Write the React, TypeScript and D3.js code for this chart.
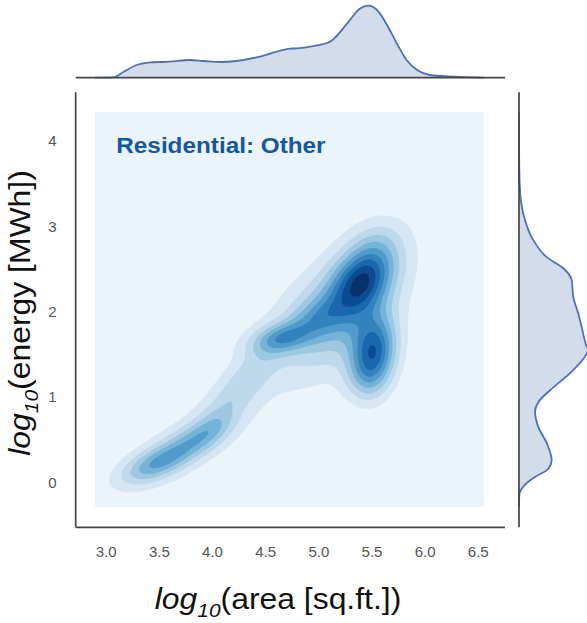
import React, { useEffect, useRef } from "react";
import * as d3 from "d3";

const size = { width: 587, height: 623 };

// main axes frame (data units)
const xDomain = [2.718, 6.756];
const yDomain = [-0.527, 4.573];
const xTicks = [3.0, 3.5, 4.0, 4.5, 5.0, 5.5, 6.0, 6.5];
const yTicks = [0, 1, 2, 3, 4];

// extent of the kde grid (shaded lowest level)
const gridX = [2.9, 6.56];
const gridY = [-0.29, 4.34];

// gaussian bumps
const bumpX = [5.42, 5.52, 5.2, 4.65, 5.0, 5.55, 5.05, 4.1, 4.35, 5.45, 3.45, 3.78, 4.0, 3.7];
const bumpY = [2.38, 1.52, 2.0, 1.69, 1.95, 2.82, 1.9, 0.85, 1.25, 1.2, 0.2, 0.45, 0.62, 0.4];
const bumpSX = [0.2, 0.15, 0.33, 0.2, 0.18, 0.2, 0.6, 0.2, 0.2, 0.15, 0.22, 0.22, 0.15, 0.45];
const bumpSY = [0.27, 0.3, 0.42, 0.13, 0.15, 0.22, 0.7, 0.25, 0.25, 0.2, 0.16, 0.18, 0.15, 0.38];
const bumpRho = [0.35, 0.15, 0.45, 0.35, 0.3, 0.2, 0.6, 0.6, 0.6, 0.0, 0.55, 0.6, 0.5, 0.7];
const bumpAmp = [0.6, 0.68, 0.31, 0.4, 0.17, 0.13, 0.13, 0.13, 0.16, 0.12, 0.34, 0.25, 0.12, 0.12];

// marginal of area (top)
const areaX = [2.9, 3.07, 3.17, 3.29, 3.42, 3.6, 3.79, 3.92, 4.08, 4.23, 4.42, 4.61, 4.73, 4.8, 4.95, 5.11, 5.27, 5.39, 5.47, 5.55, 5.64, 5.74, 5.83, 5.93, 6.05, 6.27, 6.56];
const areaD = [0, 0.004, 0.083, 0.176, 0.213, 0.222, 0.246, 0.232, 0.218, 0.232, 0.282, 0.361, 0.403, 0.408, 0.44, 0.5, 0.75, 0.958, 1.0, 0.944, 0.75, 0.472, 0.246, 0.107, 0.0375, 0.014, 0];

// marginal of energy (right)
const energyY = [-0.29, -0.15, -0.05, 0.05, 0.16, 0.26, 0.46, 0.65, 0.83, 0.94, 1.08, 1.28, 1.51, 1.55, 1.59, 1.82, 1.98, 2.17, 2.37, 2.51, 2.64, 2.84, 3.15, 3.43, 3.8, 4.34];
const energyD = [0, 0.004, 0.061, 0.204, 0.419, 0.467, 0.396, 0.276, 0.229, 0.276, 0.443, 0.729, 0.967, 0.986, 0.967, 0.896, 0.847, 0.776, 0.753, 0.633, 0.396, 0.204, 0.061, 0.014, 0.002, 0];

const nLevels = 10;
const fontFamily = "'Liberation Sans', Arial, sans-serif";

function density(x: number, y: number) {
  var v = 0;
  for (var i = 0; i < bumpX.length; i++) {
    const dx = (x - bumpX[i]) / bumpSX[i];
    const dy = (y - bumpY[i]) / bumpSY[i];
    const r = bumpRho[i];
    const q = (dx * dx - 2 * r * dx * dy + dy * dy) / (1 - r * r);
    v += bumpAmp[i] * Math.exp(-0.5 * q);
  }
  return v;
}

function JointPlot() {
  const ref = useRef<SVGSVGElement>(null);

  useEffect(() => {
    const svg = d3.select(ref.current);
    svg.selectAll("*").remove();

    const x = d3.scaleLinear().domain(xDomain).range([75.7, 505]);
    const y = d3.scaleLinear().domain(yDomain).range([527.3, 92.3]);

    ///////////////////////////////////////////////////////////////////////////
    //////////////////// KDE contours
    ///////////////////////////////////////////////////////////////////////////
    const x0 = x(gridX[0]), x1 = x(gridX[1]);
    const y0 = y(gridY[1]), y1 = y(gridY[0]);
    const step = 2;
    const nx = Math.round((x1 - x0) / step);
    const ny = Math.round((y1 - y0) / step);
    const values = new Array(nx * ny);
    for (var j = 0; j < ny; j++) {
      for (var i = 0; i < nx; i++) {
        const px = x0 + (i + 0.5) * (x1 - x0) / nx;
        const py = y0 + (j + 0.5) * (y1 - y0) / ny;
        values[j * nx + i] = density(x.invert(px), y.invert(py));
      }
    }
    const maxV = d3.max(values) as number;
    const thresholds = d3.range(1, nLevels).map((k) => (k * maxV) / (nLevels - 0.4));
    const colors = d3.range(nLevels).map((k) => d3.interpolateBlues(0.06 + (k * 0.94) / (nLevels - 1)));

    const contours = d3.contours().size([nx, ny]).thresholds(thresholds)(values);
    const path = d3.geoPath(
      d3.geoTransform({
        point: function (gx: number, gy: number) {
          this.stream.point(x0 + (gx * (x1 - x0)) / nx, y0 + (gy * (y1 - y0)) / ny);
        },
      })
    );

    svg.append("rect")
      .attr("x", x0)
      .attr("y", y0)
      .attr("width", x1 - x0)
      .attr("height", y1 - y0)
      .attr("fill", colors[0]);

    svg.append("g")
      .selectAll("path")
      .data(contours)
      .enter()
      .append("path")
      .attr("d", (d: any) => path(d))
      .attr("fill", (d: any, k: number) => colors[k + 1]);

    svg.append("text")
      .attr("transform", "translate(" + x(3.1) + "," + y(3.86) + ") scale(1.13,1)")
      .style("font", "bold 21.5px " + fontFamily)
      .attr("fill", "#14589e")
      .text("Residential: Other");

    ///////////////////////////////////////////////////////////////////////////
    //////////////////// Axes
    ///////////////////////////////////////////////////////////////////////////
    const spine = "#444";
    svg.append("line")
      .attr("x1", x(xDomain[0])).attr("x2", x(xDomain[0]))
      .attr("y1", y(yDomain[0])).attr("y2", y(yDomain[1]))
      .attr("stroke", spine).attr("stroke-width", 1.7);
    svg.append("line")
      .attr("x1", x(xDomain[0])).attr("x2", x(xDomain[1]))
      .attr("y1", y(yDomain[0])).attr("y2", y(yDomain[0]))
      .attr("stroke", spine).attr("stroke-width", 1.7);

    const xAxis = svg.append("g")
      .attr("transform", "translate(0," + y(yDomain[0]) + ")")
      .call(d3.axisBottom(x).tickValues(xTicks).tickFormat(d3.format(".1f")).tickSize(0).tickPadding(19));
    const yAxis = svg.append("g")
      .attr("transform", "translate(" + x(xDomain[0]) + ",0)")
      .call(d3.axisLeft(y).tickValues(yTicks).tickFormat(d3.format("d")).tickSize(0).tickPadding(19));
    [xAxis, yAxis].forEach((g) => {
      g.select(".domain").remove();
      g.selectAll("text").style("font", "15px " + fontFamily).attr("fill", "#555");
    });

    const xLabel = svg.append("text")
      .attr("text-anchor", "middle")
      .attr("transform", "translate(278,609) scale(1.1,1)")
      .style("font", "29px " + fontFamily)
      .attr("fill", "#111");
    xLabel.append("tspan").style("font-style", "italic").text("log");
    xLabel.append("tspan").style("font-style", "italic").style("font-size", "19px").attr("dy", 8).text("10");
    xLabel.append("tspan").attr("dy", -8).text("(area [sq.ft.])");

    const yLabel = svg.append("text")
      .attr("text-anchor", "middle")
      .attr("transform", "translate(30,313) rotate(-90) scale(1.1,1)")
      .style("font", "29px " + fontFamily)
      .attr("fill", "#111");
    yLabel.append("tspan").style("font-style", "italic").text("log");
    yLabel.append("tspan").style("font-style", "italic").style("font-size", "19px").attr("dy", 8).text("10");
    yLabel.append("tspan").attr("dy", -8).text("(energy [MWh])");

    ///////////////////////////////////////////////////////////////////////////
    //////////////////// Marginals
    ///////////////////////////////////////////////////////////////////////////
    const lineColor = "#4c72b0";
    const topBase = 77.7;
    const topD = d3.scaleLinear().domain([0, 1]).range([topBase, 5.7]);
    const topArea = d3.area<number>()
      .x((d, i) => x(areaX[i]))
      .y0(topBase)
      .y1((d) => topD(d))
      .curve(d3.curveMonotoneX);
    svg.append("path")
      .attr("d", topArea(areaD))
      .attr("fill", lineColor)
      .attr("fill-opacity", 0.25)
      .attr("stroke", "none");
    svg.append("path")
      .attr("d", topArea.lineY1()(areaD))
      .attr("fill", "none")
      .attr("stroke", lineColor)
      .attr("stroke-width", 1.8);
    svg.append("line")
      .attr("x1", x(xDomain[0])).attr("x2", x(xDomain[1]))
      .attr("y1", topBase).attr("y2", topBase)
      .attr("stroke", spine).attr("stroke-width", 1.7);

    const rightBase = 519;
    const rightD = d3.scaleLinear().domain([0, 1]).range([rightBase, 589]);
    const rightArea = d3.area<number>()
      .y((d, i) => y(energyY[i]))
      .x0(rightBase)
      .x1((d) => rightD(d))
      .curve(d3.curveMonotoneY);
    svg.append("path")
      .attr("d", rightArea(energyD))
      .attr("fill", lineColor)
      .attr("fill-opacity", 0.25)
      .attr("stroke", "none");
    svg.append("path")
      .attr("d", rightArea.lineX1()(energyD))
      .attr("fill", "none")
      .attr("stroke", lineColor)
      .attr("stroke-width", 1.8);
    svg.append("line")
      .attr("x1", rightBase).attr("x2", rightBase)
      .attr("y1", y(yDomain[0])).attr("y2", y(yDomain[1]))
      .attr("stroke", spine).attr("stroke-width", 1.7);
  }, []);

  return (
    <svg
      ref={ref}
      width={size.width}
      height={size.height}
      style={{ position: "absolute", left: 0, top: 0, background: "#fff" }}
    />
  );
}

export default function App() {
  return <JointPlot />;
}
